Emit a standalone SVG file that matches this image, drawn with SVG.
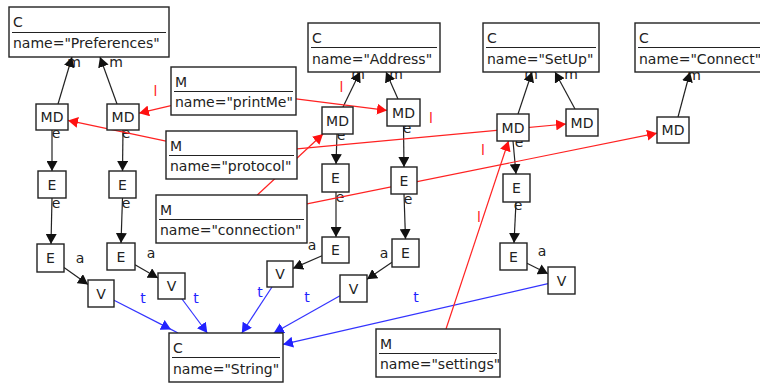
<svg xmlns="http://www.w3.org/2000/svg" width="760" height="383" viewBox="0 0 760 383">
<style>
.box{fill:#fff;stroke:#222;stroke-width:1.4}
.dv{stroke:#222;stroke-width:1.1}
.t{font-family:"DejaVu Sans","Liberation Sans",sans-serif;font-size:14px;fill:#222}
.c{text-anchor:middle}
.lk{fill:#222}
.lr{fill:#f22}
.lb{fill:#22f}
.k{stroke:#222;stroke-width:1.2;fill:none;marker-end:url(#ak)}
.r{stroke:#f22;stroke-width:1.2;fill:none;marker-end:url(#ar)}
.b{stroke:#33f;stroke-width:1.2;fill:none;marker-end:url(#ab)}
.bn{stroke:#33f;stroke-width:1.2;fill:none}
</style>
<defs>
<marker id="ak" markerUnits="userSpaceOnUse" markerWidth="11" markerHeight="11" refX="10" refY="5.5" orient="auto"><path d="M0,0 L10,5.5 L0,11 z" fill="#111"/></marker>
<marker id="ar" markerUnits="userSpaceOnUse" markerWidth="11" markerHeight="11" refX="10" refY="5.5" orient="auto"><path d="M0,0 L10,5.5 L0,11 z" fill="#f11"/></marker>
<marker id="ab" markerUnits="userSpaceOnUse" markerWidth="11" markerHeight="11" refX="10" refY="5.5" orient="auto"><path d="M0,0 L10,5.5 L0,11 z" fill="#22f"/></marker>
</defs>
<rect width="760" height="383" fill="#fff"/>
<g id="edge-labels" class="t c">
<text class="lk" x="74" y="67">m</text>
<text class="lk" x="116" y="67">m</text>
<text class="lk" x="358" y="79">m</text>
<text class="lk" x="396" y="79">m</text>
<text class="lk" x="531" y="79">m</text>
<text class="lk" x="571" y="79">m</text>
<text class="lk" x="694" y="80">m</text>
<text class="lk" x="56" y="138">e</text>
<text class="lk" x="56" y="208">e</text>
<text class="lk" x="126" y="138">e</text>
<text class="lk" x="126" y="208">e</text>
<text class="lk" x="341" y="140">e</text>
<text class="lk" x="340" y="202">e</text>
<text class="lk" x="407" y="133">e</text>
<text class="lk" x="408" y="204">e</text>
<text class="lk" x="519" y="147">e</text>
<text class="lk" x="518" y="210">e</text>
<text class="lk" x="80" y="263">a</text>
<text class="lk" x="151" y="258">a</text>
<text class="lk" x="312" y="250">a</text>
<text class="lk" x="384" y="258">a</text>
<text class="lk" x="542" y="256">a</text>
<text class="lb" x="143" y="303">t</text>
<text class="lb" x="196" y="303">t</text>
<text class="lb" x="260" y="297">t</text>
<text class="lb" x="307" y="302">t</text>
<text class="lb" x="416" y="302">t</text>
<text class="lr" x="155.5" y="96">l</text>
<text class="lr" x="341.5" y="92">l</text>
<text class="lr" x="431" y="123">l</text>
<text class="lr" x="483" y="155">l</text>
<text class="lr" x="479" y="222">l</text>
</g>
<g id="connectors">
<line class="k" x1="58" y1="104" x2="72" y2="57"/>
<line class="k" x1="117" y1="104" x2="100" y2="57"/>
<line class="k" x1="343" y1="107" x2="360" y2="72"/>
<line class="k" x1="398" y1="99" x2="386" y2="72"/>
<line class="k" x1="518" y1="114" x2="532" y2="72"/>
<line class="k" x1="575" y1="109" x2="555" y2="72"/>
<line class="k" x1="678" y1="117" x2="690" y2="72"/>
<line class="k" x1="52" y1="130" x2="52" y2="171"/>
<line class="k" x1="52" y1="198" x2="51" y2="244"/>
<line class="k" x1="123" y1="130" x2="122.5" y2="171"/>
<line class="k" x1="122.5" y1="198" x2="121" y2="243"/>
<line class="k" x1="337" y1="134" x2="336" y2="164"/>
<line class="k" x1="336" y1="192" x2="336" y2="237"/>
<line class="k" x1="403.5" y1="126" x2="404" y2="167"/>
<line class="k" x1="404" y1="194" x2="405.5" y2="239"/>
<line class="k" x1="513" y1="141" x2="516" y2="174"/>
<line class="k" x1="516" y1="202" x2="514" y2="243"/>
<line class="k" x1="64" y1="267.5" x2="88" y2="284.4"/>
<line class="k" x1="135" y1="264.7" x2="158" y2="278.1"/>
<line class="k" x1="322" y1="255.8" x2="293" y2="268.4"/>
<line class="k" x1="392" y1="262.2" x2="367" y2="279.3"/>
<line class="k" x1="527" y1="263.2" x2="548" y2="273.8"/>
<line class="b" x1="114" y1="300.2" x2="171" y2="329.4"/>
<line class="bn" x1="171" y1="329.4" x2="178" y2="333"/>
<line class="b" x1="182" y1="299" x2="207.3" y2="333"/>
<line class="b" x1="272" y1="287" x2="241.8" y2="333"/>
<line class="b" x1="340" y1="295.8" x2="273.8" y2="333"/>
<line class="b" x1="548" y1="283.6" x2="283" y2="344.4"/>
<line class="r" x1="171" y1="105.7" x2="139" y2="113.2"/>
<line class="r" x1="296" y1="98.9" x2="387" y2="110.4"/>
<line class="r" x1="166" y1="141.1" x2="68" y2="120.4"/>
<line class="r" x1="297" y1="148.9" x2="566" y2="124"/>
<line class="r" x1="257.3" y1="195" x2="323" y2="134"/>
<line class="r" x1="307" y1="203.8" x2="657" y2="133.2"/>
<line class="r" x1="446" y1="329" x2="508.5" y2="141"/>
</g>
<g id="c-preferences"><rect class="box" x="9" y="7" width="160" height="50"/><line class="dv" x1="12" y1="32.5" x2="166" y2="32.5"/><text class="t" x="13" y="26.5">C</text><text class="t" x="13" y="48">name="Preferences"</text></g>
<g id="m-printme"><rect class="box" x="171" y="67" width="125" height="48"/><line class="dv" x1="174" y1="91.5" x2="293" y2="91.5"/><text class="t" x="175" y="86.5">M</text><text class="t" x="175" y="107">name="printMe"</text></g>
<g id="m-protocol"><rect class="box" x="166" y="131" width="131" height="48"/><line class="dv" x1="169" y1="155.5" x2="294" y2="155.5"/><text class="t" x="170" y="150.5">M</text><text class="t" x="170" y="171">name="protocol"</text></g>
<g id="m-connection"><rect class="box" x="156" y="195" width="151" height="48"/><line class="dv" x1="159" y1="219.5" x2="304" y2="219.5"/><text class="t" x="160" y="214.5">M</text><text class="t" x="160" y="235">name="connection"</text></g>
<g id="c-address"><rect class="box" x="308" y="23" width="132" height="49"/><line class="dv" x1="311" y1="47.5" x2="437" y2="47.5"/><text class="t" x="312" y="42.5">C</text><text class="t" x="312" y="63.5">name="Address"</text></g>
<g id="c-setup"><rect class="box" x="483" y="23" width="116" height="49"/><line class="dv" x1="486" y1="47.5" x2="596" y2="47.5"/><text class="t" x="487" y="42.5">C</text><text class="t" x="487" y="63.5">name="SetUp"</text></g>
<g id="c-connect"><rect class="box" x="635" y="23" width="132" height="49"/><line class="dv" x1="638" y1="47.5" x2="764" y2="47.5"/><text class="t" x="639" y="42.5">C</text><text class="t" x="639" y="63.5">name="Connect"</text></g>
<g id="c-string"><rect class="box" x="169" y="333" width="114" height="49"/><line class="dv" x1="172" y1="357.5" x2="280" y2="357.5"/><text class="t" x="173" y="352.5">C</text><text class="t" x="173" y="373.5">name="String"</text></g>
<g id="m-settings"><rect class="box" x="376" y="329" width="124" height="48"/><line class="dv" x1="379" y1="353.5" x2="497" y2="353.5"/><text class="t" x="380" y="348.5">M</text><text class="t" x="380" y="369">name="settings"</text></g>
<g id="md-pref1"><rect class="box" x="36" y="104" width="32" height="26"/><text class="t c" x="52" y="122">MD</text></g>
<g id="md-pref2"><rect class="box" x="107" y="104" width="32" height="26"/><text class="t c" x="123" y="122">MD</text></g>
<g id="md-addr1"><rect class="box" x="322" y="107" width="31" height="27"/><text class="t c" x="337.5" y="125.5">MD</text></g>
<g id="md-addr2"><rect class="box" x="387" y="99" width="33" height="27"/><text class="t c" x="403.5" y="117.5">MD</text></g>
<g id="md-setup1"><rect class="box" x="497" y="114" width="32" height="27"/><text class="t c" x="513" y="132.5">MD</text></g>
<g id="md-setup2"><rect class="box" x="566" y="109" width="32" height="27"/><text class="t c" x="582" y="127.5">MD</text></g>
<g id="md-connect"><rect class="box" x="657" y="117" width="32" height="26"/><text class="t c" x="673" y="135">MD</text></g>
<g id="e-p1a"><rect class="box" x="38" y="171" width="28" height="27"/><text class="t c" x="52" y="189.5">E</text></g>
<g id="e-p1b"><rect class="box" x="37" y="244" width="27" height="28"/><text class="t c" x="50.5" y="263">E</text></g>
<g id="e-p2a"><rect class="box" x="109" y="171" width="27" height="27"/><text class="t c" x="122.5" y="189.5">E</text></g>
<g id="e-p2b"><rect class="box" x="107" y="243" width="28" height="27"/><text class="t c" x="121" y="261.5">E</text></g>
<g id="e-a1a"><rect class="box" x="322" y="164" width="27" height="28"/><text class="t c" x="335.5" y="183">E</text></g>
<g id="e-a1b"><rect class="box" x="322" y="237" width="27" height="26"/><text class="t c" x="335.5" y="255">E</text></g>
<g id="e-a2a"><rect class="box" x="391" y="167" width="26" height="27"/><text class="t c" x="404" y="185.5">E</text></g>
<g id="e-a2b"><rect class="box" x="392" y="239" width="27" height="28"/><text class="t c" x="405.5" y="258">E</text></g>
<g id="e-s1a"><rect class="box" x="503" y="174" width="27" height="28"/><text class="t c" x="516.5" y="193">E</text></g>
<g id="e-s1b"><rect class="box" x="500" y="243" width="27" height="27"/><text class="t c" x="513.5" y="261.5">E</text></g>
<g id="v-p1"><rect class="box" x="88" y="280" width="26" height="27"/><text class="t c" x="101" y="298.5">V</text></g>
<g id="v-p2"><rect class="box" x="158" y="273" width="27" height="26"/><text class="t c" x="171.5" y="291">V</text></g>
<g id="v-a1"><rect class="box" x="267" y="261" width="26" height="26"/><text class="t c" x="280" y="279">V</text></g>
<g id="v-a2"><rect class="box" x="340" y="275" width="27" height="27"/><text class="t c" x="353.5" y="293.5">V</text></g>
<g id="v-s1"><rect class="box" x="548" y="267" width="27" height="27"/><text class="t c" x="561.5" y="285.5">V</text></g>
</svg>
